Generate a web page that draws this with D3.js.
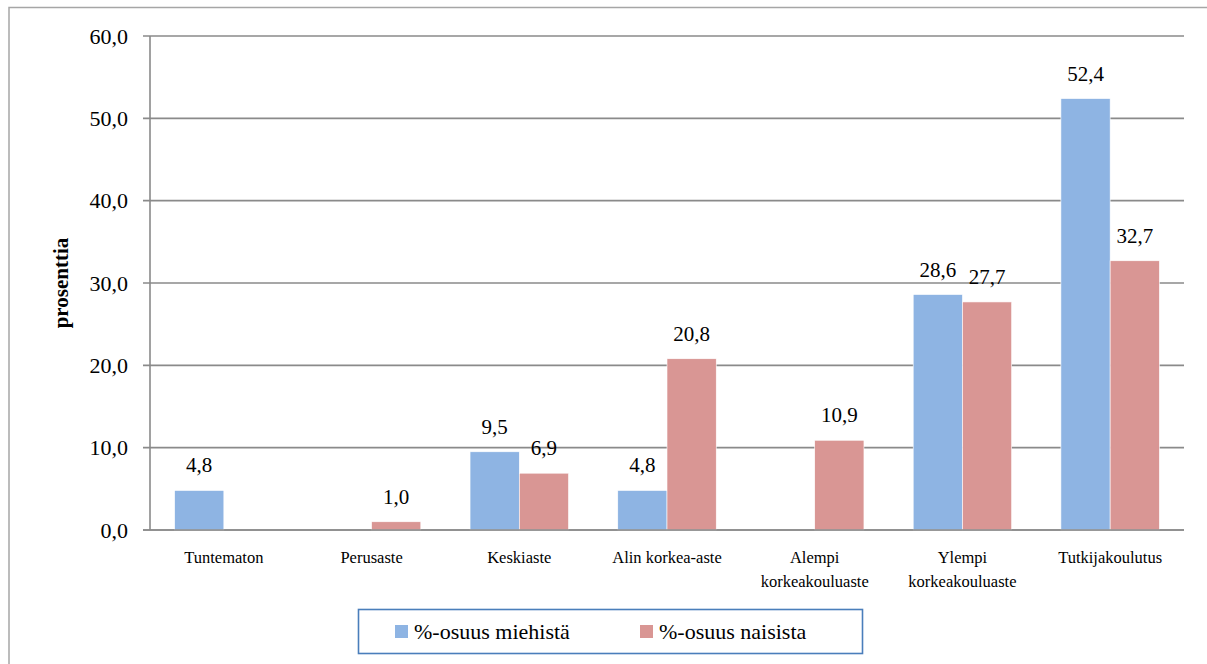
<!DOCTYPE html>
<html><head><meta charset="utf-8"><script src="https://cdn.jsdelivr.net/npm/d3@7"></script></head>
<body style="margin:0">
<svg id="s" width="1207" height="664"></svg>
<script>
// Education level categories (each entry holds the lines of its axis label)
const categories = ["Tuntematon", "Perusaste", "Keskiaste", "Alin korkea-aste",
  "Alempi korkeakouluaste", "Ylempi korkeakouluaste", "Tutkijakoulutus"];
const categoryLines = [["Tuntematon"], ["Perusaste"], ["Keskiaste"], ["Alin korkea-aste"],
  ["Alempi", "korkeakouluaste"], ["Ylempi", "korkeakouluaste"], ["Tutkijakoulutus"]];

// Shares in percent; null = no bar
const menShare   = [4.8, null, 9.5, 4.8, null, 28.6, 52.4];
const womenShare = [null, 1.0, 6.9, 20.8, 10.9, 27.7, 32.7];

const seriesNames = ["%-osuus miehistä", "%-osuus naisista"];
const seriesColors = ["#8eb4e3", "#d99694"];
const yTicks = [0, 10, 20, 30, 40, 50, 60];

const FONT = "Liberation Serif";
const svg = d3.select("#s");
const fmt = v => d3.format(".1f")(v).replace(".", ",");
const serif = sel => sel.attr("font-family", FONT).style("font-family", FONT);

// outer frame
svg.append("rect")
  .attr("x", 9).attr("y", 7.5).attr("width", 1220).attr("height", 680)
  .attr("fill", "none").attr("stroke", "#a6a6a6").attr("stroke-width", 1.5);

const plotLeft = 150, plotRight = 1184, plotTop = 36, plotBottom = 530;

const x0 = d3.scaleBand().domain(categories).range([plotLeft, plotRight]).padding(0);
const x1 = d3.scaleBand().domain([0, 1]).range([0, x0.bandwidth()]).paddingInner(0).paddingOuter(0.5);
const y = d3.scaleLinear().domain([0, 60]).range([plotBottom, plotTop]);

// horizontal gridlines with small ticks to the left of the axis
svg.append("g").selectAll("line").data(yTicks).join("line")
  .attr("x1", plotLeft - 7).attr("x2", plotRight)
  .attr("y1", d => y(d)).attr("y2", d => y(d))
  .attr("stroke", "#8a8a8a").attr("stroke-width", 1.6);

// vertical axis line
svg.append("line")
  .attr("x1", plotLeft).attr("x2", plotLeft).attr("y1", y(60)).attr("y2", y(0))
  .attr("stroke", "#8a8a8a").attr("stroke-width", 1.6);

// y tick labels
svg.append("g").selectAll("text").data(yTicks).join("text")
  .attr("x", plotLeft - 22).attr("y", d => y(d) + 7.5)
  .attr("text-anchor", "end")
  .attr("font-size", 22)
  .call(serif)
  .text(d => fmt(d));

// y axis title
svg.append("text")
  .attr("transform", `translate(68,${(plotTop + plotBottom) / 2}) rotate(-90)`)
  .attr("text-anchor", "middle")
  .attr("font-size", 21).attr("font-weight", "bold")
  .call(serif)
  .text("prosenttia");

// bars with value labels
const series = [menShare, womenShare];
series.forEach((vals, s) => {
  const data = categories.map((c, i) => ({ c, v: vals[i] })).filter(d => d.v != null);
  const g = svg.append("g");
  g.selectAll("rect").data(data).join("rect")
    .attr("x", d => x0(d.c) + x1(s))
    .attr("width", x1.bandwidth())
    .attr("y", d => y(d.v))
    .attr("height", d => y(0) - y(d.v))
    .attr("fill", seriesColors[s])
    .attr("stroke", "#fff").attr("stroke-width", 0.6);
  g.selectAll("text").data(data).join("text")
    .attr("x", d => x0(d.c) + x1(s) + x1.bandwidth() / 2)
    .attr("y", d => y(d.v) - 18)
    .attr("text-anchor", "middle")
    .attr("font-size", 21)
    .call(serif)
    .text(d => fmt(d.v));
});

// baseline drawn over the bars
svg.append("line")
  .attr("x1", plotLeft - 7).attr("x2", plotRight).attr("y1", y(0)).attr("y2", y(0))
  .attr("stroke", "#8a8a8a").attr("stroke-width", 1.6);

// category labels
const cat = svg.append("g").selectAll("text").data(categories).join("text")
  .attr("text-anchor", "middle")
  .attr("font-size", 16.5)
  .call(serif)
  .attr("x", d => x0(d) + x0.bandwidth() / 2)
  .attr("y", 563);
cat.each(function(d, i) {
  d3.select(this).selectAll("tspan").data(categoryLines[i]).join("tspan")
    .attr("x", x0(d) + x0.bandwidth() / 2)
    .attr("dy", (t, j) => j === 0 ? 0 : 24)
    .text(t => t);
});

// legend
const legend = svg.append("g");
legend.append("rect")
  .attr("x", 358.5).attr("y", 609.5).attr("width", 504).attr("height", 44)
  .attr("fill", "#fff").attr("stroke", "#4a7ebb").attr("stroke-width", 1.6);
const legendX = [395, 640];
seriesNames.forEach((name, s) => {
  legend.append("rect")
    .attr("x", legendX[s]).attr("y", 625).attr("width", 13).attr("height", 13)
    .attr("fill", seriesColors[s]);
  legend.append("text")
    .attr("x", legendX[s] + 19).attr("y", 639)
    .attr("font-size", 22)
    .call(serif)
    .text(name);
});
</script></body></html>
